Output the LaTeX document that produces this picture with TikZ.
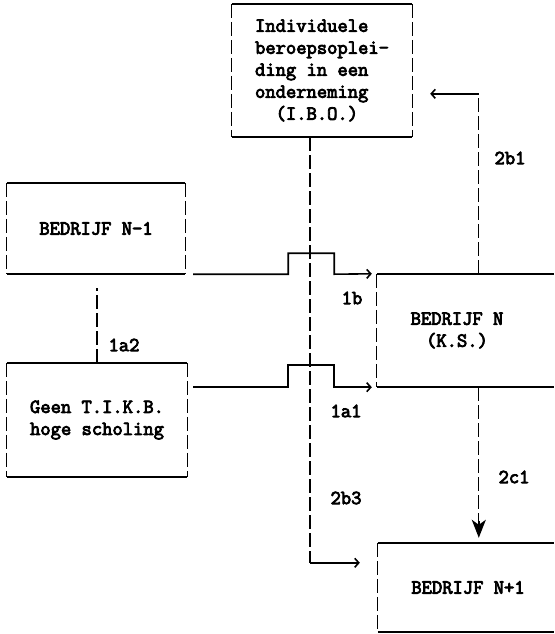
\documentclass[tikz,border=0pt]{standalone}
\usepackage{fontspec}
\newfontfamily\typer{Latin Modern Mono}[FakeBold=4]
\usetikzlibrary{arrows.meta,calc}

\begin{document}
\begin{tikzpicture}[
    x=1pt, y=-1pt,
    >={Straight Barb[length=4pt,width=9pt]},
    unit/.style={rectangle, inner sep=0pt, font=\typer\fontsize{20}{22}\selectfont},
    flow/.style={line width=1.6pt},
    link/.style={line width=1.3pt, dash pattern=on 14pt off 4pt},
    tag/.style={font=\typer\fontsize{20}{22}\selectfont}
]
  \useasboundingbox (0,0) rectangle (554,634);
  \clip (0,0) rectangle (554,634);
  \coordinate (rim) at (554,0);

  % Boxes
  \node[unit, minimum width=180, minimum height=133, align=left] (ibo) at (322,70.5)
    {Individuele\\beroepsoplei-\\ding in een\\onderneming\\\phantom{xx}(I.B.O.)};
  \node[unit, minimum width=178, minimum height=91] (nmin) at (96,228.5) {BEDRIJF N-1};
  \node[unit, minimum width=180, minimum height=114, align=left] (geen) at (97,420)
    {Geen T.I.K.B.\\hoge scholing};
  \node[unit, minimum width=160, minimum height=113, align=center] (bn) at (457,330.5)
    {BEDRIJF N\\(K.S.)};
  \node[unit, minimum width=180, minimum height=89] (np1) at (468,587.5) {BEDRIJF N+1};

  \foreach \b in {ibo,nmin,geen}{
    \draw[flow] (\b.north west) -- (\b.north east);
    \draw[flow] (\b.south west) -- (\b.south east);
    \draw[link] (\b.north west) -- (\b.south west);
    \draw[link] (\b.north east) -- (\b.south east);
  }
  \foreach \b in {bn,np1}{
    \draw[flow] (\b.north west) -- (\b.north west -| rim);
    \draw[flow] (\b.south west) -- (\b.south west -| rim);
    \draw[link] (\b.north west) -- (\b.south west);
  }

  % Connectors
  \draw[flow, ->] ($(nmin.south east)+(8,0)$) -- ++(95,0) -- ++(0,-21) -- ++(46,0) -- ++(0,21)
    -- ($(bn.north west)+(-5,0)$);
  \draw[flow, ->] ($(geen.east |- bn.south)+(6,0)$) -- ++(95,0) -- ++(0,-22) -- ++(46,0) -- ++(0,22)
    -- ($(bn.south west)+(-5,0)$);
  \draw[link] (geen.north) -- ($(geen.north |- nmin.south)+(0,14)$);

  \path ($(ibo.south)+(-12,0)$) coordinate (drop)
        ($(np1.north west)+(0,20)$) coordinate (entry)
        ($(bn.north west)+(102,0)$) coordinate (rise)
        ($(ibo.north east)+(18,90)$) coordinate (back);
  \draw[link] (drop) -- (drop |- entry);
  \draw[flow, ->] (drop |- entry) -- ($(entry)+(-18,0)$);
  \draw[link] (rise) -- (rise |- back);
  \draw[flow, ->] (rise |- back) -- (back);
  \draw[link] (rise |- bn.south) -- ($(rise |- np1.north)+(0,-22)$) coordinate (tipstart);
  \draw[flow, -{Stealth[length=18pt,width=14pt,inset=5pt]}] (tipstart) -- ($(rise |- np1.north)+(0,-5)$);

  % Labels
  \node[tag] (l2b1) at (510,158) {2b1};
  \node[tag] (l1b) at (352,298) {1b};
  \node[tag] (l1a2) at (124,345) {1a2};
  \node[tag] (l1a1) at (346,411) {1a1};
  \node[tag] (l2c1) at (514,477) {2c1};
  \node[tag] (l2b3) at (346,498) {2b3};
\end{tikzpicture}
\end{document}
